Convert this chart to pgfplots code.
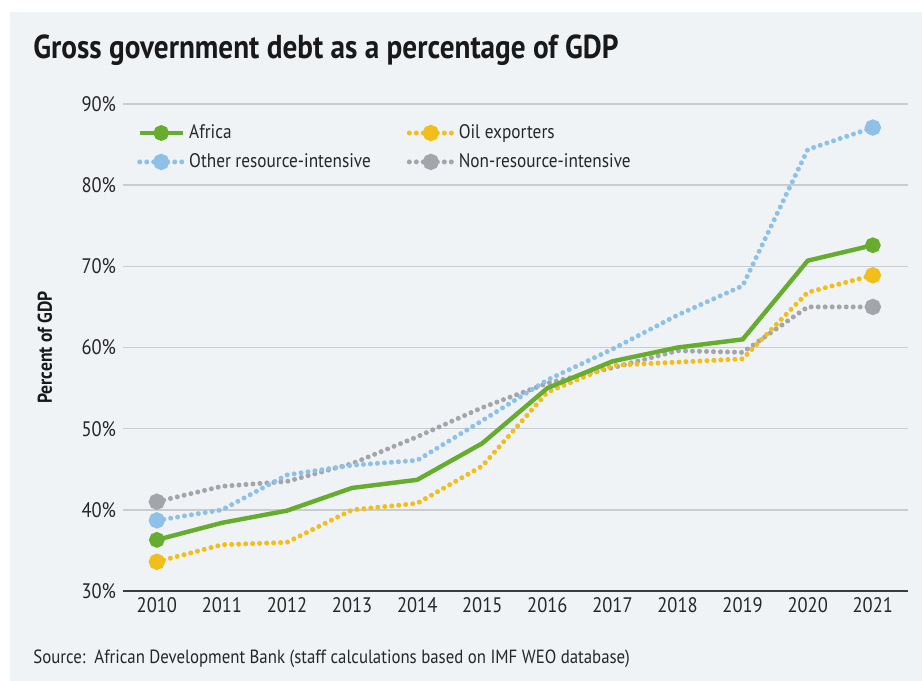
\documentclass[border=0pt]{standalone}
\usepackage{fontspec}
\setmainfont{PT Sans}[FakeStretch=0.88]
\usepackage{pgfplots}
\pgfplotsset{compat=1.18}
\definecolor{bgpanel}{HTML}{F0F3F6}
\definecolor{cafrica}{HTML}{66AC2E}
\definecolor{coil}{HTML}{F2BE1A}
\definecolor{cother}{HTML}{8DC1E8}
\definecolor{cnon}{HTML}{A2A5A9}
\definecolor{gridc}{HTML}{C9CCD0}
\definecolor{axc}{HTML}{3C3C3C}
\tikzset{mydots/.style={line width=2.5bp, line cap=round, dash pattern=on 0bp off 3.5bp}}
\begin{document}
\begin{tikzpicture}
\fill[white] (-61.5bp,-45bp) rectangle (399.5bp,295.5bp);
\fill[bgpanel] (-56.5bp,-45bp) rectangle (399.5bp,289.5bp);
\node[anchor=base west,font=\bfseries\fontsize{16.6bp}{19bp}\selectfont,text=black!90,inner sep=0pt] at (-45bp,266bp) {Gross government debt as a percentage of GDP};
\node[anchor=base west,font=\fontsize{9.55bp}{11bp}\selectfont,text=black!85,inner sep=0pt] at (-45bp,-36bp) {Source:\ \ African Development Bank (staff calculations based on IMF WEO database)};
\begin{axis}[
  at={(0,0)}, anchor=south west,
  scale only axis, width=392.5bp, height=243.5bp,
  xmin=2009.48, xmax=2021.54, ymin=30, ymax=90,
  xtick={2010,...,2021}, ytick={30,40,...,90},
  /pgf/number format/assume math mode=true,
  xticklabel={\pgfmathprintnumber[1000 sep={}]{\tick}},
  yticklabel={\pgfmathprintnumber{\tick}\%},
  ticklabel style={font=\fontsize{10.5bp}{12bp}\selectfont, text=black!85},
  major tick length=0pt,
  axis x line=bottom, axis y line=left,
  axis line style={-},
  x axis line style={line width=1bp, color=axc},
  y axis line style={draw=none},
  ymajorgrids, grid style={gridc, line width=0.7bp},
  ylabel={Percent of GDP},
  ylabel style={at={(axis description cs:-0.0994,0.5)}, anchor=center, font=\bfseries\fontsize{10bp}{12bp}\selectfont, text=black!90},
  legend columns=2, reverse legend,
  legend cell align=left,
  legend style={at={(axis description cs:0.01,0.975)}, anchor=north west, draw=none, fill=none,
    font=\fontsize{9.8bp}{11bp}\selectfont, text=black!85, row sep=2bp,
    /tikz/every even column/.append style={column sep=16bp}},
  legend image code/.code={\draw[#1, mark indices={2}] plot coordinates {(0bp,0bp) (10.75bp,0bp) (21.5bp,0bp)};},
]
\addplot[cnon, mydots, mark=*, mark indices={1,12}, mark size=2.8bp, mark options={solid, fill=cnon, draw=cnon}] coordinates {
(2010,41.0) (2011,42.9) (2012,43.5) (2013,45.7) (2014,49.0) (2015,52.6) (2016,55.6) (2017,57.5) (2018,59.6) (2019,59.4) (2020,65.0) (2021,65.0)};
\addlegendentry{Non-resource-intensive}
\addplot[cother, mydots, mark=*, mark indices={1,12}, mark size=2.8bp, mark options={solid, fill=cother, draw=cother}] coordinates {
(2010,38.7) (2011,40.0) (2012,44.3) (2013,45.5) (2014,46.1) (2015,51.0) (2016,56.0) (2017,59.8) (2018,64.0) (2019,67.6) (2020,84.4) (2021,87.1)};
\addlegendentry{Other resource-intensive}
\addplot[coil, mydots, mark=*, mark indices={1,12}, mark size=2.8bp, mark options={solid, fill=coil, draw=coil}] coordinates {
(2010,33.6) (2011,35.7) (2012,36.0) (2013,40.0) (2014,40.8) (2015,45.4) (2016,54.5) (2017,57.8) (2018,58.2) (2019,58.6) (2020,66.8) (2021,68.9)};
\addlegendentry{Oil exporters}
\addplot[cafrica, line width=2.2bp, mark=*, mark indices={1,12}, mark size=2.8bp, mark options={solid, fill=cafrica, draw=cafrica}] coordinates {
(2010,36.3) (2011,38.4) (2012,39.9) (2013,42.7) (2014,43.7) (2015,48.2) (2016,55.0) (2017,58.3) (2018,60.0) (2019,61.0) (2020,70.7) (2021,72.6)};
\addlegendentry{Africa}
\end{axis}
\end{tikzpicture}
\end{document}
